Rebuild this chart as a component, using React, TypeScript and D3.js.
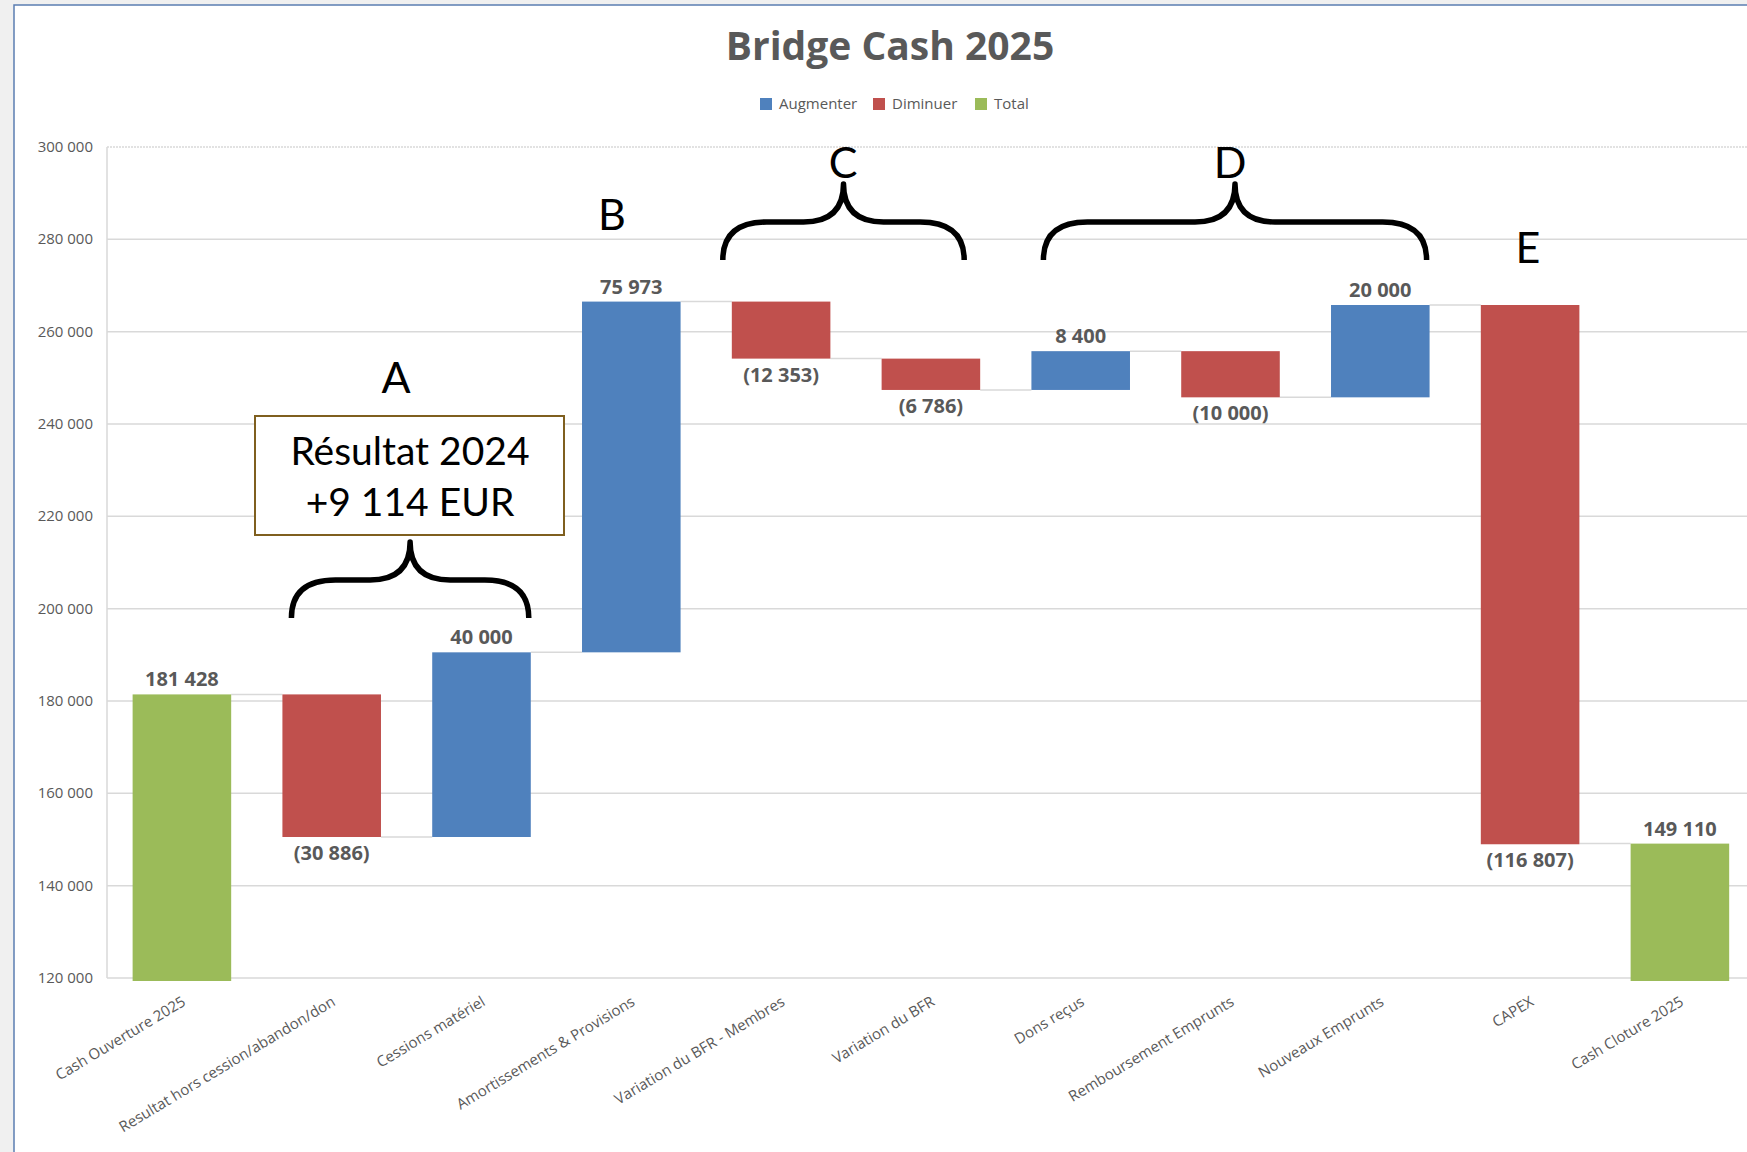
import React from 'react';
import * as d3 from 'd3';

// Chart data
const categories = [
  'Cash Ouverture 2025',
  'Resultat hors cession/abandon/don',
  'Cessions matériel',
  'Amortissements & Provisions',
  'Variation du BFR - Membres',
  'Variation du BFR',
  'Dons reçus',
  'Remboursement Emprunts',
  'Nouveaux Emprunts',
  'CAPEX',
  'Cash Cloture 2025',
];
const amounts = [181428, -30886, 40000, 75973, -12353, -6786, 8400, -10000, 20000, -116807, 149110];
const kinds = ['total', 'down', 'up', 'up', 'down', 'down', 'up', 'down', 'up', 'down', 'total'];

const legendNames = ['Augmenter', 'Diminuer', 'Total'];
const legendKinds = ['up', 'down', 'total'];
const yTickValues = [120000, 140000, 160000, 180000, 200000, 220000, 240000, 260000, 280000, 300000];

const colors: Record<string, string> = { up: '#4F81BD', down: '#C0504D', total: '#9BBB59' };

// Annotations
const noteLines = ['Résultat 2024', '+9 114 EUR'];

const W = 1747;
const H = 1152;
const textColor = '#595959';
const gridColor = '#D9D9D9';
const font = '"Open Sans", "Noto Sans", sans-serif';
const noteFont = 'Lato, "Open Sans", sans-serif';

const fmt = (v: number) => d3.format(',.0f')(v).replace(/,/g, ' ');

// horizontal curly brace, tip pointing up
const bracePath = (x0: number, x1: number, yEnd: number, yTip: number) => {
  const yMid = (yEnd + yTip) / 2;
  const xc = (x0 + x1) / 2;
  const re = 44;
  const rc = 40;
  return [
    `M${x0},${yEnd}`,
    `Q${x0},${yMid} ${x0 + re},${yMid}`,
    `L${xc - rc},${yMid}`,
    `Q${xc},${yMid} ${xc},${yTip}`,
    `Q${xc},${yMid} ${xc + rc},${yMid}`,
    `L${x1 - re},${yMid}`,
    `Q${x1},${yMid} ${x1},${yEnd}`,
  ].join(' ');
};

export default function App() {
  const plotLeft = 107;
  const plotTop = 147;
  const plotBottom = 978;

  const x = d3
    .scaleBand<string>()
    .domain(categories)
    .range([plotLeft, plotLeft + 11 * 149.8])
    .paddingInner(0.342)
    .paddingOuter(0.171);

  const y = d3.scaleLinear().domain([120000, 300000]).range([plotBottom, plotTop]);

  // running totals for the waterfall
  let running = 0;
  const bars = categories.map((c, i) => {
    let start: number;
    let end: number;
    if (kinds[i] === 'total') {
      start = 0;
      end = amounts[i];
    } else {
      start = running;
      end = running + amounts[i];
    }
    running = end;
    return { c, i, start, end, kind: kinds[i], amount: amounts[i] };
  });

  const bw = x.bandwidth();
  const barTop = (b: typeof bars[0]) => y(Math.max(b.start, b.end));
  const barBottom = (b: typeof bars[0]) =>
    b.kind === 'total' ? y(120000) + 3 : y(Math.min(b.start, b.end));

  const cx = (c: string) => (x(c) as number) + bw / 2;

  const braces = [
    { from: 1, to: 2, padL: 9, padR: -2, yEnd: 618, yTip: 542 },
    { from: 4, to: 5, padL: -9, padR: -16, yEnd: 260, yTip: 184 },
    { from: 6, to: 8, padL: 12, padR: -3, yEnd: 260, yTip: 184 },
  ];

  const letters = [
    { t: 'A', x: 396, y: 393 },
    { t: 'B', x: 612, y: 230 },
    { t: 'C', x: 843, y: 178 },
    { t: 'D', x: 1230, y: 178 },
    { t: 'E', x: 1528, y: 263 },
  ];

  return (
    <div style={{ position: 'absolute', left: 0, top: 0, width: W, height: H, overflow: 'hidden' }}>
      <svg width={W} height={H} style={{ display: 'block' }}>
        <rect x={0} y={0} width={W} height={H} fill="#F0F0F0" />
        <rect x={14} y={5} width={W} height={H} fill="#FFFFFF" stroke="#5B7DB1" strokeWidth={1.5} />

        {/* title */}
        <text x={890} y={60} textAnchor="middle" fontFamily={font} fontWeight={700} fontSize={39} fill={textColor}>
          Bridge Cash 2025
        </text>

        {/* legend */}
        {legendNames.map((name, i) => {
          const lx = [760, 873, 975][i];
          return (
            <g key={name}>
              <rect x={lx} y={98} width={12} height={12} fill={colors[legendKinds[i]]} />
              <text x={lx + 19} y={109} fontFamily={font} fontSize={15} fill={textColor}>
                {name}
              </text>
            </g>
          );
        })}

        {/* grid */}
        {yTickValues.map((v) => (
          <g key={v}>
            <line
              x1={plotLeft}
              x2={W}
              y1={y(v)}
              y2={y(v)}
              stroke={gridColor}
              strokeWidth={1.5}
              strokeDasharray={v === 300000 ? '2 1' : undefined}
            />
            <text
              x={plotLeft - 14}
              y={y(v) + 5}
              textAnchor="end"
              fontFamily={font}
              fontSize={15}
              fill={textColor}
            >
              {fmt(v)}
            </text>
          </g>
        ))}
        <line x1={plotLeft} x2={plotLeft} y1={plotTop} y2={plotBottom} stroke={gridColor} strokeWidth={1.5} />

        {/* connectors */}
        {bars.slice(0, -1).map((b, i) => {
          const next = bars[i + 1];
          const level = next.kind === 'total' ? next.end : b.end;
          return (
            <line
              key={'c' + i}
              x1={(x(b.c) as number) + bw}
              x2={x(next.c) as number}
              y1={y(level)}
              y2={y(level)}
              stroke={gridColor}
              strokeWidth={1.5}
            />
          );
        })}

        {/* bars */}
        {bars.map((b) => (
          <rect
            key={b.c}
            x={x(b.c)}
            y={barTop(b)}
            width={bw}
            height={barBottom(b) - barTop(b)}
            fill={colors[b.kind]}
          />
        ))}

        {/* value labels */}
        {bars.map((b) => {
          const neg = b.amount < 0;
          return (
            <text
              key={'v' + b.c}
              x={cx(b.c)}
              y={neg ? y(b.end) + 23 : barTop(b) - 8}
              textAnchor="middle"
              fontFamily={font}
              fontWeight={700}
              fontSize={20}
              fill={textColor}
            >
              {neg ? `(${fmt(-b.amount)})` : fmt(b.amount)}
            </text>
          );
        })}

        {/* category labels */}
        {categories.map((c) => (
          <text
            key={'x' + c}
            transform={`translate(${cx(c) + 2},${plotBottom + 22}) rotate(-31)`}
            textAnchor="end"
            dy="0.35em"
            fontFamily={font}
            fontSize={15}
            fill={textColor}
          >
            {c}
          </text>
        ))}

        {/* annotation box */}
        <rect x={255} y={416} width={309} height={119} fill="#FFFFFF" stroke="#7F5F1F" strokeWidth={2} />
        {noteLines.map((l, i) => (
          <text
            key={l}
            x={410}
            y={465 + i * 51}
            textAnchor="middle"
            fontFamily={noteFont}
            fontSize={39}
            fill="#000"
          >
            {l}
          </text>
        ))}

        {/* braces */}
        {braces.map((br, i) => (
          <path
            key={'b' + i}
            d={bracePath(
              (x(categories[br.from]) as number) + br.padL,
              (x(categories[br.to]) as number) + bw + br.padR,
              br.yEnd,
              br.yTip
            )}
            fill="none"
            stroke="#000"
            strokeWidth={5.5}
            strokeLinejoin="round"
          />
        ))}

        {letters.map((l) => (
          <text key={l.t} x={l.x} y={l.y} textAnchor="middle" fontFamily={noteFont} fontSize={43} fill="#000">
            {l.t}
          </text>
        ))}
      </svg>
    </div>
  );
}
